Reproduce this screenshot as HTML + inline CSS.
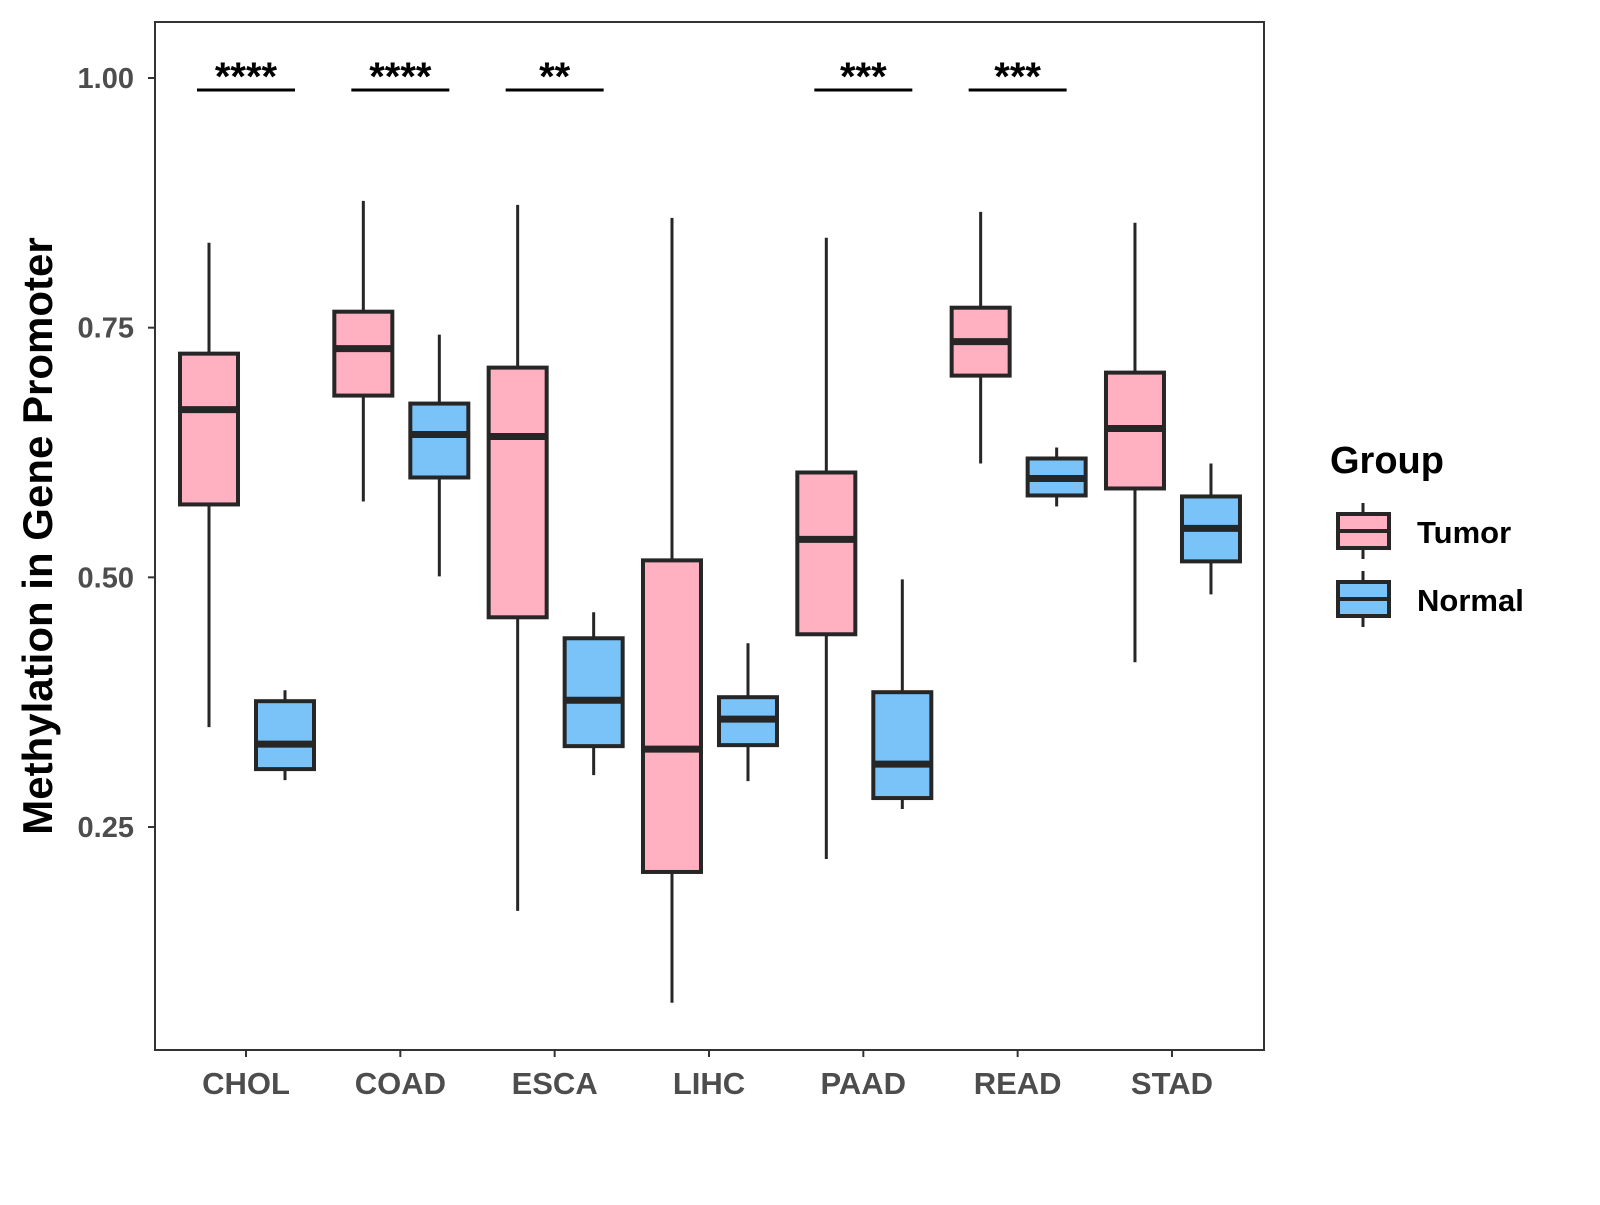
<!DOCTYPE html>
<html><head><meta charset="utf-8"><style>
body{margin:0;background:#fff}
svg text{font-family:"Liberation Sans",Arial,sans-serif;font-weight:bold}
</style></head><body>
<svg id="chart" width="1600" height="1200" xmlns="http://www.w3.org/2000/svg">
<rect x="155" y="22" width="1109" height="1028" fill="#fff" stroke="#333" stroke-width="2"/>
<g id="marks"></g>
<text x="52" y="536" font-size="42" text-anchor="middle" transform="rotate(-90 52 536)">Methylation in Gene Promoter</text>
<text x="1330" y="473" font-size="38">Group</text>
<g>
<line x1="1363" y1="503" x2="1363" y2="559" stroke="#262626" stroke-width="3"/>
<rect x="1338" y="514" width="51" height="34" fill="#FFB0C1" stroke="#262626" stroke-width="4"/>
<line x1="1338" y1="531" x2="1389" y2="531" stroke="#262626" stroke-width="4"/>
<text x="1417" y="543" font-size="31">Tumor</text></g>
<g>
<line x1="1363" y1="571" x2="1363" y2="627" stroke="#262626" stroke-width="3"/>
<rect x="1338" y="582" width="51" height="34" fill="#7AC3F8" stroke="#262626" stroke-width="4"/>
<line x1="1338" y1="599" x2="1389" y2="599" stroke="#262626" stroke-width="4"/>
<text x="1417" y="611" font-size="31">Normal</text></g>
</svg>
<script>
const categories=["CHOL","COAD","ESCA","LIHC","PAAD","READ","STAD"];
const tumorLow=[0.350,0.576,0.166,0.074,0.218,0.614,0.415];
const tumorQ1=[0.573,0.682,0.460,0.205,0.443,0.702,0.589];
const tumorMed=[0.668,0.729,0.641,0.328,0.538,0.736,0.649];
const tumorQ3=[0.724,0.766,0.710,0.517,0.605,0.770,0.705];
const tumorHigh=[0.835,0.877,0.873,0.860,0.840,0.866,0.855];
const normalLow=[0.297,0.501,0.302,0.296,0.268,0.571,0.483];
const normalQ1=[0.308,0.600,0.331,0.332,0.279,0.582,0.516];
const normalMed=[0.333,0.643,0.377,0.358,0.313,0.599,0.549];
const normalQ3=[0.376,0.674,0.439,0.380,0.385,0.619,0.581];
const normalHigh=[0.387,0.743,0.465,0.434,0.498,0.630,0.614];
const signif=["****","****","**","","***","***",""];
const yTicks=[0.25,0.50,0.75,1.00];
const yTickLabels=["0.25","0.50","0.75","1.00"];

const NS="http://www.w3.org/2000/svg";
const svg=document.getElementById('marks');
const y=v=>78+(1-v)*998.7;
const x=i=>246+i*154.33;
function mk(t,a,p){const e=document.createElementNS(NS,t);for(const k in a)e.setAttribute(k,a[k]);(p||svg).appendChild(e);return e;}
yTicks.forEach((v,i)=>{
  const l=mk('line',{x1:148,x2:155,y1:y(v),y2:y(v),stroke:'#333','stroke-width':2});
  
  
  const t=mk('text',{x:134,y:y(v)+10,'font-size':29,'text-anchor':'end',fill:'#4d4d4d'});
  t.textContent=yTickLabels[i];
  
  
});
function box(cx,lo,q1,md,q3,hi,fill,name){
  const g=mk('g',{});
  
  
  mk('line',{x1:cx,x2:cx,y1:y(hi),y2:y(lo),stroke:'#262626','stroke-width':3},g);
  mk('rect',{x:cx-29,y:y(q3),width:58,height:y(q1)-y(q3),fill:fill,stroke:'#262626','stroke-width':4},g);
  mk('line',{x1:cx-29,x2:cx+29,y1:y(md),y2:y(md),stroke:'#262626','stroke-width':7},g);
}
categories.forEach((c,i)=>{
  const cx=x(i);
  box(cx-37,tumorLow[i],tumorQ1[i],tumorMed[i],tumorQ3[i],tumorHigh[i],'#FFB0C1','box-tumor-'+c.toLowerCase());
  box(cx+39,normalLow[i],normalQ1[i],normalMed[i],normalQ3[i],normalHigh[i],'#7AC3F8','box-normal-'+c.toLowerCase());
  const tk=mk('line',{x1:cx,x2:cx,y1:1050,y2:1057,stroke:'#333','stroke-width':2});
  
  
  const t=mk('text',{x:cx,y:1094,'font-size':31,'text-anchor':'middle',fill:'#4d4d4d'});
  t.textContent=c;
  
  
  if(signif[i]){
    const b=mk('line',{x1:cx-49,x2:cx+49,y1:90,y2:90,stroke:'#000','stroke-width':3});
    
    
    const s=mk('text',{x:cx,y:90,'font-size':40,'text-anchor':'middle'});
    s.textContent=signif[i];
    
    
  }
});
</script>
</body></html>
